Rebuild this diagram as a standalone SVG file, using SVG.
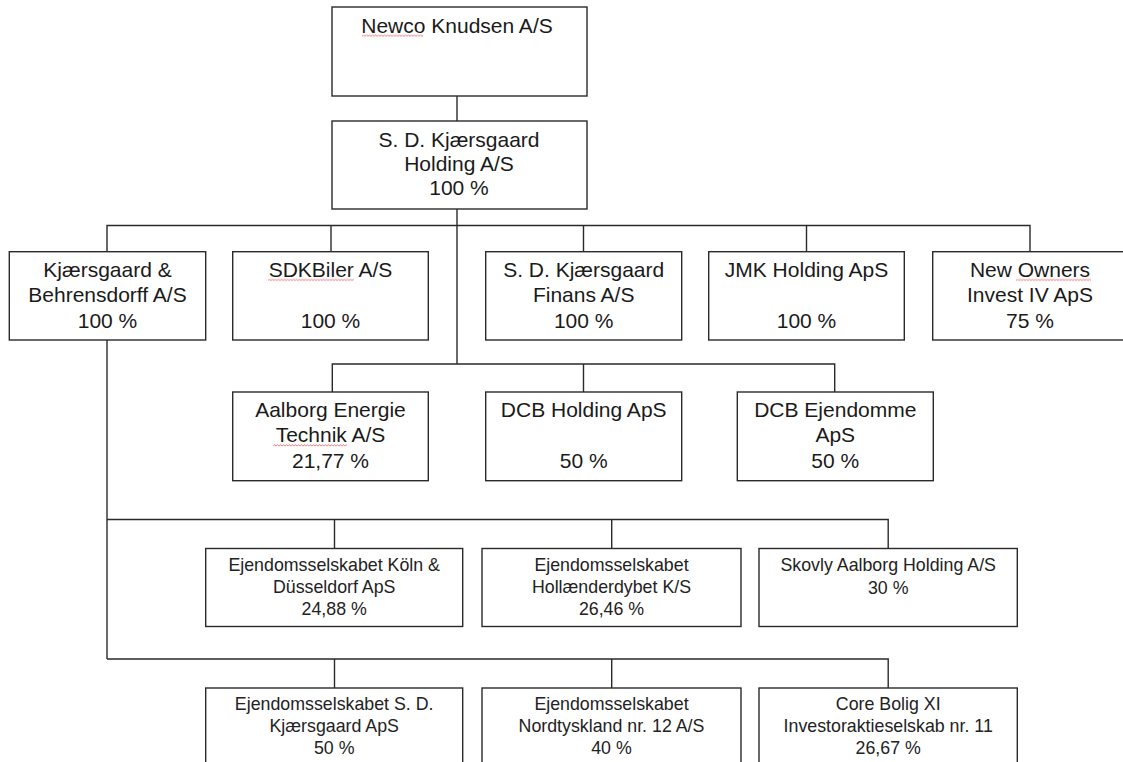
<svg xmlns="http://www.w3.org/2000/svg" width="1123" height="762" viewBox="0 0 1123 762">
<defs>
<style>
.box{fill:#fff;stroke:#2a2a2a;stroke-width:1.4}
.ln{fill:none;stroke:#2a2a2a;stroke-width:1.4}
.t{font-family:"Liberation Sans",Arial,sans-serif;font-size:21px;fill:#1a1a1a;text-anchor:middle}
.s{font-family:"Liberation Sans",Arial,sans-serif;font-size:17.8px;fill:#222;text-anchor:middle}
</style>
<pattern id="squig" width="3" height="3" patternUnits="userSpaceOnUse">
<path d="M0,2.2 L1.5,0.8 L3,2.2" fill="none" stroke="#e03a3a" stroke-width="0.7"/>
</pattern>
</defs>
<rect width="1123" height="762" fill="#fff"/>

<g id="connectors">
<path class="ln" d="M457,96 V121"/>
<path class="ln" d="M457,209 V364"/>
<path class="ln" d="M107,251.7 V225.5 H1030 V251.7"/>
<path class="ln" d="M331,225.5 V251.7"/>
<path class="ln" d="M583.5,225.5 V251.7"/>
<path class="ln" d="M806.5,225.5 V251.7"/>
<path class="ln" d="M332.3,392 V364 H834.7 V392"/>
<path class="ln" d="M583.5,364 V392"/>
<path class="ln" d="M107,340 V659"/>
<path class="ln" d="M107,519.5 H888.2 V548.5"/>
<path class="ln" d="M334.5,519.5 V548.5"/>
<path class="ln" d="M611.7,519.5 V548.5"/>
<path class="ln" d="M107,659 H888.2 V688"/>
<path class="ln" d="M334.5,659 V688"/>
<path class="ln" d="M611.7,659 V688"/>
</g>

<g id="newco">
<rect class="box" x="332" y="7" width="255" height="89"/>
<text class="t" x="457" y="33">Newco Knudsen A/S</text>
</g>
<g id="sdk-holding">
<rect class="box" x="332" y="121" width="255" height="88"/>
<text class="t" x="459" y="147">S. D. Kjærsgaard</text>
<text class="t" x="459" y="171">Holding A/S</text>
<text class="t" x="459" y="195">100 %</text>
</g>

<g id="kb">
<rect class="box" x="9.3" y="251.7" width="196.4" height="88.3"/>
<text class="t" x="107.5" y="277">Kjærsgaard &amp;</text>
<text class="t" x="107.5" y="302">Behrensdorff A/S</text>
<text class="t" x="107.5" y="328">100 %</text>
</g>
<g id="sdkbiler">
<rect class="box" x="232.7" y="251.7" width="195.6" height="88.3"/>
<text class="t" x="330.5" y="277">SDKBiler A/S</text>
<text class="t" x="330.5" y="328">100 %</text>
</g>
<g id="finans">
<rect class="box" x="485.7" y="251.7" width="196" height="88.3"/>
<text class="t" x="583.7" y="277">S. D. Kjærsgaard</text>
<text class="t" x="583.7" y="302">Finans A/S</text>
<text class="t" x="583.7" y="328">100 %</text>
</g>
<g id="jmk">
<rect class="box" x="708.7" y="251.7" width="195.6" height="88.3"/>
<text class="t" x="806.5" y="277">JMK Holding ApS</text>
<text class="t" x="806.5" y="328">100 %</text>
</g>
<g id="newowners">
<rect class="box" x="932.7" y="251.7" width="196" height="88.3"/>
<text class="t" x="1030" y="277">New Owners</text>
<text class="t" x="1030" y="302">Invest IV ApS</text>
<text class="t" x="1030" y="328">75 %</text>
</g>

<g id="aalborg">
<rect class="box" x="232.7" y="392" width="195.6" height="88.7"/>
<text class="t" x="330.5" y="417">Aalborg Energie</text>
<text class="t" x="330.5" y="442">Technik A/S</text>
<text class="t" x="330.5" y="468">21,77 %</text>
</g>
<g id="dcb-holding">
<rect class="box" x="485.7" y="392" width="196" height="88.7"/>
<text class="t" x="583.7" y="417">DCB Holding ApS</text>
<text class="t" x="583.7" y="468">50 %</text>
</g>
<g id="dcb-ejendomme">
<rect class="box" x="737.3" y="392" width="196" height="88.7"/>
<text class="t" x="835.3" y="417">DCB Ejendomme</text>
<text class="t" x="835.3" y="442">ApS</text>
<text class="t" x="835.3" y="468">50 %</text>
</g>

<g id="koeln">
<rect class="box" x="205.7" y="548.5" width="257" height="78"/>
<text class="s" x="334.2" y="571">Ejendomsselskabet Köln &amp;</text>
<text class="s" x="334.2" y="593">Düsseldorf ApS</text>
<text class="s" x="334.2" y="615">24,88 %</text>
</g>
<g id="hollaenderdybet">
<rect class="box" x="482" y="548.5" width="259" height="78"/>
<text class="s" x="611.5" y="571">Ejendomsselskabet</text>
<text class="s" x="611.5" y="593">Hollænderdybet K/S</text>
<text class="s" x="611.5" y="615">26,46 %</text>
</g>
<g id="skovly">
<rect class="box" x="759" y="548.5" width="258.3" height="78"/>
<text class="s" x="888.2" y="571">Skovly Aalborg Holding A/S</text>
<text class="s" x="888.2" y="594">30 %</text>
</g>

<g id="sdk-ejendom">
<rect class="box" x="205.7" y="688" width="257" height="90"/>
<text class="s" x="334.2" y="710">Ejendomsselskabet S. D.</text>
<text class="s" x="334.2" y="732">Kjærsgaard ApS</text>
<text class="s" x="334.2" y="754">50 %</text>
</g>
<g id="nordtyskland">
<rect class="box" x="482" y="688" width="259" height="90"/>
<text class="s" x="611.5" y="710">Ejendomsselskabet</text>
<text class="s" x="611.5" y="732">Nordtyskland nr. 12 A/S</text>
<text class="s" x="611.5" y="754">40 %</text>
</g>
<g id="core-bolig">
<rect class="box" x="759" y="688" width="258.3" height="90"/>
<text class="s" x="888.2" y="710">Core Bolig XI</text>
<text class="s" x="888.2" y="732">Investoraktieselskab nr. 11</text>
<text class="s" x="888.2" y="754">26,67 %</text>
</g>

<g id="spellcheck">
<g transform="translate(362,34.3)"><rect width="61" height="2.6" fill="url(#squig)"/></g>
<g transform="translate(268,278.5)"><rect width="86" height="2.6" fill="url(#squig)"/></g>
<g transform="translate(1016,278.5)"><rect width="75" height="2.6" fill="url(#squig)"/></g>
<g transform="translate(273,444)"><rect width="74" height="2.6" fill="url(#squig)"/></g>
</g>
</svg>
